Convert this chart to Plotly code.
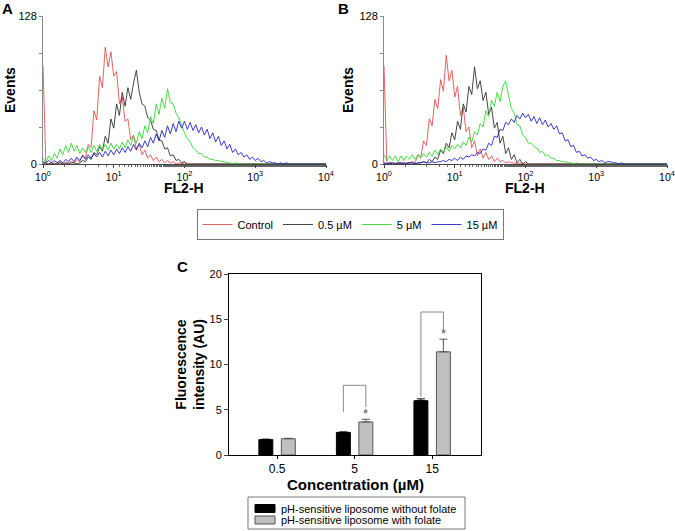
import plotly.graph_objects as go

# ---------------- data: flow cytometry histograms (events per channel) ----------------
log_channel = [round(i * 0.04, 2) for i in range(101)]   # log10(FL2-H) channel grid
fl2h = [10 ** v for v in log_channel]

ctrl_a = [85, 1, 0, 1, 0, 1, 2, 0, 1, 1,
          2, 1, 4, 2, 8, 5, 17, 14, 46, 38,
          76, 66, 101, 84, 97, 76, 80, 52, 58, 37,
          39, 21, 25, 13, 17, 8, 12, 5, 8, 3,
          6, 2, 4, 1, 3, 1, 2, 0, 1, 0,
          1, 0, 0, 0, 0, 0, 0, 0, 0, 0,
          0, 0, 0, 0, 0, 0, 0, 0, 0, 0,
          0, 0, 0, 0, 0, 0, 0, 0, 0, 0,
          0, 0, 0, 0, 0, 0, 0, 0, 0, 0,
          0, 0, 0, 0, 0, 0, 0, 0, 0, 0,
          0]
um05_a = [1, 0, 0, 1, 0, 0, 1, 0, 1, 0,
          1, 1, 0, 1, 3, 2, 6, 4, 10, 8,
          15, 11, 24, 18, 39, 31, 52, 42, 62, 50,
          66, 56, 70, 81, 62, 52, 50, 40, 38, 30,
          29, 21, 20, 13, 14, 7, 8, 3, 4, 1,
          2, 0, 0, 0, 0, 0, 0, 0, 0, 0,
          0, 0, 0, 0, 0, 0, 0, 0, 0, 0,
          0, 0, 0, 0, 0, 0, 0, 0, 0, 0,
          0, 0, 0, 0, 0, 0, 0, 0, 0, 0,
          0, 0, 0, 0, 0, 0, 0, 0, 0, 0,
          0]
um5_a = [5, 2, 7, 3, 9, 5, 13, 8, 16, 10,
         18, 11, 16, 9, 14, 10, 15, 10, 16, 11,
         17, 12, 17, 12, 18, 13, 17, 13, 19, 14,
         21, 16, 24, 18, 28, 22, 33, 27, 41, 35,
         52, 43, 57, 48, 65, 53, 52, 44, 40, 33,
         27, 22, 19, 14, 12, 9, 9, 6, 6, 4,
         4, 3, 3, 2, 2, 1, 1, 0, 1, 0,
         0, 0, 0, 0, 0, 0, 0, 0, 0, 0,
         0, 0, 0, 0, 0, 0, 0, 0, 0, 0,
         0, 0, 0, 0, 0, 0, 0, 0, 0, 0,
         0]
um15_a = [2, 1, 3, 1, 3, 1, 3, 1, 4, 2,
          5, 2, 6, 3, 7, 4, 8, 5, 9, 6,
          10, 6, 11, 7, 12, 8, 13, 9, 14, 10,
          15, 11, 17, 12, 18, 14, 20, 15, 23, 18,
          26, 20, 29, 23, 33, 26, 35, 28, 37, 31,
          37, 30, 36, 29, 34, 27, 32, 25, 30, 22,
          27, 19, 24, 16, 20, 13, 17, 10, 13, 8,
          10, 6, 8, 4, 6, 3, 5, 2, 3, 1,
          2, 1, 1, 0, 1, 0, 1, 0, 0, 0,
          0, 0, 0, 0, 0, 0, 0, 0, 0, 0,
          0]

ctrl_b = [85, 1, 0, 1, 1, 0, 1, 1, 0, 1,
          2, 1, 8, 6, 20, 16, 39, 33, 56, 48,
          73, 63, 94, 72, 81, 58, 67, 42, 49, 28,
          32, 14, 20, 7, 13, 5, 10, 4, 7, 2,
          5, 2, 3, 1, 2, 1, 1, 0, 1, 0,
          0, 0, 0, 0, 0, 0, 0, 0, 0, 0,
          0, 0, 0, 0, 0, 0, 0, 0, 0, 0,
          0, 0, 0, 0, 0, 0, 0, 0, 0, 0,
          0, 0, 0, 0, 0, 0, 0, 0, 0, 0,
          0, 0, 0, 0, 0, 0, 0, 0, 0, 0,
          0]
um05_b = [1, 0, 1, 0, 0, 1, 0, 1, 0, 1,
          1, 0, 1, 1, 2, 1, 4, 2, 6, 4,
          12, 9, 18, 14, 27, 21, 37, 30, 52, 45,
          67, 60, 84, 65, 72, 55, 62, 43, 49, 31,
          36, 18, 24, 9, 14, 4, 8, 1, 4, 0,
          2, 0, 0, 0, 0, 0, 0, 0, 0, 0,
          0, 0, 0, 0, 0, 0, 0, 0, 0, 0,
          0, 0, 0, 0, 0, 0, 0, 0, 0, 0,
          0, 0, 0, 0, 0, 0, 0, 0, 0, 0,
          0, 0, 0, 0, 0, 0, 0, 0, 0, 0,
          0]
um5_b = [8, 3, 7, 3, 7, 2, 7, 3, 7, 4,
         8, 4, 8, 5, 9, 6, 10, 7, 12, 8,
         13, 10, 15, 11, 16, 13, 17, 14, 19, 16,
         23, 19, 28, 25, 35, 32, 46, 41, 55, 50,
         62, 54, 67, 72, 59, 48, 44, 34, 33, 25,
         23, 18, 18, 15, 14, 10, 11, 7, 8, 5,
         5, 3, 3, 2, 2, 1, 1, 0, 1, 0,
         0, 0, 0, 0, 0, 0, 0, 0, 0, 0,
         0, 0, 0, 0, 0, 0, 0, 0, 0, 0,
         0, 0, 0, 0, 0, 0, 0, 0, 0, 0,
         0]
um15_b = [1, 0, 1, 1, 0, 1, 1, 0, 1, 1,
          1, 0, 1, 1, 2, 1, 1, 2, 1, 2,
          2, 3, 2, 4, 3, 5, 3, 6, 4, 7,
          6, 8, 7, 10, 9, 13, 12, 18, 16, 24,
          23, 30, 29, 36, 34, 39, 36, 42, 39, 44,
          40, 43, 37, 41, 35, 40, 34, 38, 32, 35,
          30, 33, 26, 27, 20, 21, 15, 16, 10, 11,
          7, 8, 5, 6, 3, 4, 2, 3, 1, 2,
          2, 1, 1, 0, 1, 0, 0, 0, 0, 0,
          0, 0, 0, 0, 0, 0, 0, 0, 0, 0,
          0]

series_names = ["Control", "0.5 µM", "5 µM", "15 µM"]
x_tick_vals = [1, 10, 100, 1000, 10000]
x_tick_text = ["10<sup>0</sup>", "10<sup>1</sup>", "10<sup>2</sup>", "10<sup>3</sup>", "10<sup>4</sup>"]
y_tick_vals = [0, 32, 64, 96, 128]
y_tick_text = ["0", "", "", "", "128"]

# ---------------- data: bar chart ----------------
concentrations = ["0.5", "5", "15"]
bar_names = ["pH-sensitive liposome without folate", "pH-sensitive liposome with folate"]
without_folate = [1.7, 2.5, 6.0]
without_folate_err = [0.05, 0.05, 0.2]
with_folate = [1.8, 3.65, 11.4]
with_folate_err = [0.05, 0.3, 1.4]
bracket_groups = [1, 2]                 # index of concentration with significance bracket
bracket_top = [7.7, 15.8]
bracket_left_bottom = [4.75, 6.4]
bracket_right_bottom = [5.3, 13.8]

FONT = "Liberation Sans, Arial, sans-serif"
W, H = 675, 531
line_colors = ["rgba(228,70,70,0.85)", "rgba(40,40,40,0.85)",
               "rgba(40,215,40,0.85)", "rgba(25,25,200,0.85)"]
bar_fill = ["black", "#c0c0c0"]
bar_edge = ["black", "#555"]

def px(x):
    return x / W

def py(y):
    return 1 - y / H

fig = go.Figure()

for name, ya, yb, col in zip(series_names, [ctrl_a, um05_a, um5_a, um15_a],
                             [ctrl_b, um05_b, um5_b, um15_b], line_colors):
    fig.add_trace(go.Scatter(x=fl2h, y=ya, mode="lines", name=name,
                             line=dict(color=col, width=1),
                             xaxis="x", yaxis="y", legend="legend"))
    fig.add_trace(go.Scatter(x=fl2h, y=yb, mode="lines", name=name,
                             line=dict(color=col, width=1),
                             xaxis="x2", yaxis="y2", showlegend=False))

for name, vals, errs, fill, edge in zip(bar_names, [without_folate, with_folate],
                                        [without_folate_err, with_folate_err], bar_fill, bar_edge):
    fig.add_trace(go.Bar(x=concentrations, y=vals, name=name,
                         marker=dict(color=fill, line=dict(color=edge, width=1)),
                         error_y=dict(type="data", array=errs, symmetric=False,
                                      arrayminus=[0] * len(errs), color=edge, thickness=1, width=4),
                         xaxis="x3", yaxis="y3", showlegend=False))

bargap = 0.42
bargroupgap = 0.38
half_sep = (1 - bargap) / 4   # offset of each bar center from category center

shapes = []
annotations = []
for gi, top, lb, rb in zip(bracket_groups, bracket_top, bracket_left_bottom, bracket_right_bottom):
    xl = gi - half_sep
    xr = gi + half_sep
    for x0, y0, x1, y1 in [(xl, lb, xl, top), (xl, top, xr, top), (xr, top, xr, rb)]:
        shapes.append(dict(type="line", xref="x3", yref="y3", x0=x0, y0=y0, x1=x1, y1=y1,
                           line=dict(color="#8a8a8a", width=1)))
    annotations.append(dict(xref="x3", yref="y3", x=xr, y=with_folate[gi] + with_folate_err[gi],
                            text="*", showarrow=False, yanchor="bottom", yshift=-4,
                            font=dict(size=13, color="#555", family=FONT)))

def pa(text, x, y, size=14, angle=0, xanchor="center", yanchor="middle"):
    annotations.append(dict(xref="paper", yref="paper", x=x, y=y, text=text, showarrow=False,
                            textangle=angle, xanchor=xanchor, yanchor=yanchor,
                            font=dict(size=size, color="black", family=FONT)))

pa("<b>A</b>", px(0), py(-2), 15, xanchor="left", yanchor="top")
pa("<b>B</b>", px(336), py(-2), 15, xanchor="left", yanchor="top")
pa("<b>C</b>", px(175), py(256), 15, xanchor="left", yanchor="top")
pa("<b>Events</b>", px(10), py(90), 14, angle=-90)
pa("<b>Events</b>", px(348), py(90), 14, angle=-90)
pa("<b>FL2-H</b>", px(184), py(188), 14)
pa("<b>FL2-H</b>", px(525), py(188), 14)
pa("<b>Fluorescence<br>intensity (AU)</b>", px(190), py(365), 14, angle=-90)
pa("<b>Concentration (µM)</b>", px(355), py(484), 15)

# legend box for panel C (drawn as a framed key)
shapes.append(dict(type="rect", xref="paper", yref="paper", x0=px(248), x1=px(465),
                   y0=py(529), y1=py(497), line=dict(color="#777", width=1), fillcolor="white"))
for k, (name, fill, edge) in enumerate(zip(bar_names, bar_fill, bar_edge)):
    yc = 508.5 + 11.5 * k
    shapes.append(dict(type="rect", xref="paper", yref="paper", x0=px(255), x1=px(275),
                       y0=py(yc + 4), y1=py(yc - 4), line=dict(color=edge, width=1), fillcolor=fill))
    pa(name, px(279), py(yc), 11, xanchor="left")

log_axis = dict(type="log", range=[0, 4], tickvals=x_tick_vals, ticktext=x_tick_text,
                showline=True, linecolor="#444", linewidth=1, ticks="outside", ticklen=3,
                tickcolor="#444", showgrid=False, zeroline=False, automargin=False,
                ticklabeloverflow="allow",
                tickfont=dict(size=10.5, family=FONT, color="black"),
                minor=dict(ticks="outside", ticklen=2, tickcolor="#666", showgrid=False))
ev_axis = dict(range=[0, 128], tickvals=y_tick_vals, ticktext=y_tick_text,
               showline=True, linecolor="#8a8a8a", linewidth=1, ticks="outside", ticklen=3,
               tickcolor="#888", showgrid=False, zeroline=False, automargin=False,
               tickfont=dict(size=11, family=FONT, color="black"))

fig.update_layout(
    width=W, height=H, margin=dict(l=0, r=0, t=0, b=0, autoexpand=False),
    paper_bgcolor="white", plot_bgcolor="white",
    font=dict(family=FONT, color="black"),
    barmode="group", bargap=bargap, bargroupgap=bargroupgap,
    xaxis=dict(domain=[px(43), px(326)], anchor="y", **log_axis),
    yaxis=dict(domain=[py(164), py(16)], anchor="x", **ev_axis),
    xaxis2=dict(domain=[px(384), px(667)], anchor="y2", **log_axis),
    yaxis2=dict(domain=[py(164), py(16)], anchor="x2", **ev_axis),
    xaxis3=dict(domain=[px(229), px(481)], anchor="y3", range=[-0.62, 2.63],
                showline=True, mirror=True, linecolor="black", linewidth=1,
                ticks="outside", ticklen=3, tickcolor="black", showgrid=False,
                automargin=False, tickfont=dict(size=12, family=FONT, color="black")),
    yaxis3=dict(domain=[py(455), py(274)], anchor="x3", range=[0, 20], tickvals=[0, 5, 10, 15, 20],
                showline=True, mirror=True, linecolor="black", linewidth=1,
                ticks="outside", ticklen=4, showgrid=False, zeroline=False, automargin=False,
                tickfont=dict(size=11, family=FONT, color="black")),
    legend=dict(orientation="h", x=px(350), y=py(209), xanchor="center", yanchor="top",
                bordercolor="#777", borderwidth=1, bgcolor="white",
                font=dict(size=11, family=FONT, color="black"), itemwidth=30,
                tracegroupgap=0),
    shapes=shapes, annotations=annotations,
)

fig.write_html("out.html", config={"displayModeBar": False},
               post_script="document.body.style.margin='0px';")
